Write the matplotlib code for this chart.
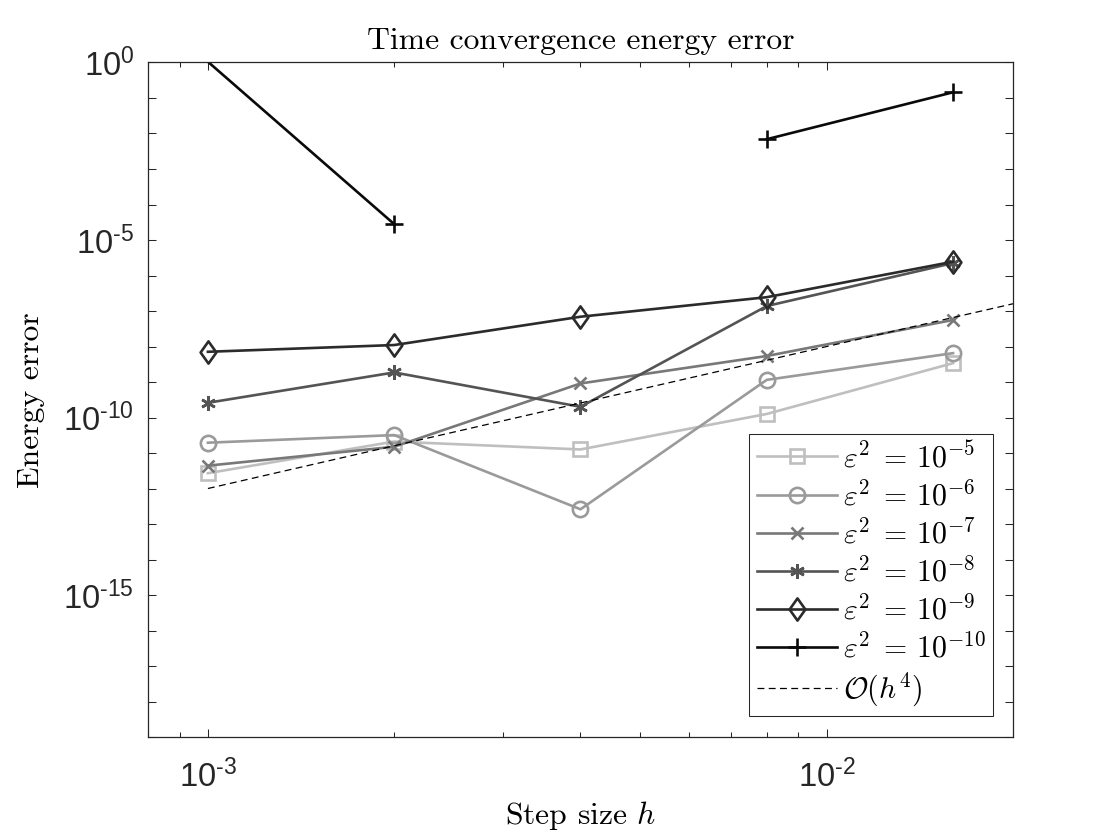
import numpy as np
import matplotlib
matplotlib.use("Agg")
import matplotlib.pyplot as plt
from matplotlib.ticker import FixedLocator, NullFormatter
from matplotlib.path import Path

plt.rcParams['mathtext.fontset'] = 'cm'
plt.rcParams['mathtext.rm'] = 'Liberation Sans'
plt.rcParams['mathtext.it'] = 'Liberation Sans:italic'
plt.rcParams['mathtext.bf'] = 'Liberation Sans:bold'
plt.rcParams['axes.formatter.use_mathtext'] = True

# ---- data ----
h = [1e-3, 2e-3, 4e-3, 8e-3, 1.6e-2]
labels = [r'$\varepsilon^2 \;= \,10^{-5}$', r'$\varepsilon^2 \;= \,10^{-6}$', r'$\varepsilon^2 \;= \,10^{-7}$',
          r'$\varepsilon^2 \;= \,10^{-8}$', r'$\varepsilon^2 \;= \,10^{-9}$', r'$\varepsilon^2 \;= \,10^{-10}$']
err_e5 = [2.7e-12, 2.1e-11, 1.26e-11, 1.26e-10, 3.4e-9]
err_e6 = [1.95e-11, 3.2e-11, 2.6e-13, 1.15e-9, 6.5e-9]
err_e7 = [4.4e-12, 1.5e-11, 9.1e-10, 5.4e-9, 5.6e-8]
err_e8 = [2.6e-10, 1.86e-9, 2.0e-10, 1.38e-7, 2.24e-6]
err_e9 = [7.1e-9, 1.1e-8, 6.9e-8, 2.45e-7, 2.45e-6]
err_e10 = [1.05, 2.8e-5, np.nan, 6.9e-3, 0.145]
ref_h = [1e-3, 2e-2]
ref_err = [1e-12, 1.6e-7]
ref_label = r'$\mathcal{O}(h^4)$'

ytick_vals = [10.0 ** k for k in range(-19, 1)]
ytick_labels = [(r'$10^{\text{-%d}}$' % (-k) if k < 0 else r'$10^{0}$') if k % 5 == 0 else ''
                for k in range(-19, 1)]
xtick_vals = [1e-3, 1e-2]
xtick_labels = [r'$10^{\text{-3}}$', r'$10^{\text{-2}}$']
xminor_vals = [8e-4, 9e-4, 2e-3, 3e-3, 4e-3, 5e-3, 6e-3, 7e-3, 8e-3, 9e-3, 2e-2]

# ---- styles ----
diamond = Path([(0, 1), (0.71, 0), (0, -1), (-0.71, 0), (0, 1)],
               [Path.MOVETO, Path.LINETO, Path.LINETO, Path.LINETO, Path.CLOSEPOLY])
series = [err_e5, err_e6, err_e7, err_e8, err_e9, err_e10]
colors = ['#bfbfbf', '#9a9a9a', '#787878', '#545454', '#2b2b2b', '#0a0a0a']
markers = ['s', 'o', 'x', (6, 2, 0), diamond, '+']
msizes = [9.5, 11, 9, 10.5, 16, 13]
markevery = [None, None, None, None, None, [1, 3, 4]]

fig = plt.figure(figsize=(11.2, 8.4), dpi=100)
ax = fig.add_axes([0.1321, 0.1226, 0.9045 - 0.1321, 0.9256 - 0.1226])

for y, c, m, ms, me, lab in zip(series, colors, markers, msizes, markevery, labels):
    ax.plot(h, y, color=c, marker=m, markersize=ms, markerfacecolor='none',
            markeredgecolor=c, markeredgewidth=1.9, linewidth=1.9, markevery=me, label=lab)
ax.plot(ref_h, ref_err, color='k', linestyle=(0, (5.5, 3.5)), linewidth=0.9, label=ref_label)

ax.set_xscale('log')
ax.set_yscale('log')
ax.set_xlim(8e-4, 2e-2)
ax.set_ylim(1e-19, 1e0)

ax.yaxis.set_major_locator(FixedLocator(ytick_vals))
ax.set_yticks(ytick_vals, ytick_labels)
ax.yaxis.set_minor_locator(FixedLocator([]))
ax.yaxis.set_minor_formatter(NullFormatter())
ax.set_xticks(xtick_vals, xtick_labels)
ax.xaxis.set_minor_locator(FixedLocator(xminor_vals))
ax.xaxis.set_minor_formatter(NullFormatter())

ax.tick_params(which='both', direction='in', top=True, right=True, color='#262626',
               width=0.75, labelcolor='#262626', labelsize=23.5)
ax.tick_params(which='major', length=5.8)
ax.tick_params(which='minor', length=3.6)
ax.tick_params(axis='x', pad=16.5)
ax.tick_params(axis='y', pad=10)
for lab in ax.get_xticklabels() + ax.get_yticklabels():
    lab.set_math_fontfamily('custom')

for s in ax.spines.values():
    s.set_color('#262626')
    s.set_linewidth(0.9)

ax.set_title('Time convergence energy error', fontfamily='cmr10', fontsize=22.8, pad=10)
ax.set_xlabel('Step size $h$', fontfamily='cmr10', fontsize=22.8, labelpad=3)
ax.set_ylabel('Energy error', fontfamily='cmr10', fontsize=22.8, labelpad=13)

leg = ax.legend(loc='lower right', bbox_to_anchor=(0.9769, 0.0311), fontsize=21.5,
                handlelength=2.68, handletextpad=0.2, borderpad=0.25, labelspacing=0.245,
                fancybox=False, framealpha=1, edgecolor='#262626', borderaxespad=0)
leg.get_frame().set_linewidth(0.75)

fig.savefig('out.png', dpi=100)
